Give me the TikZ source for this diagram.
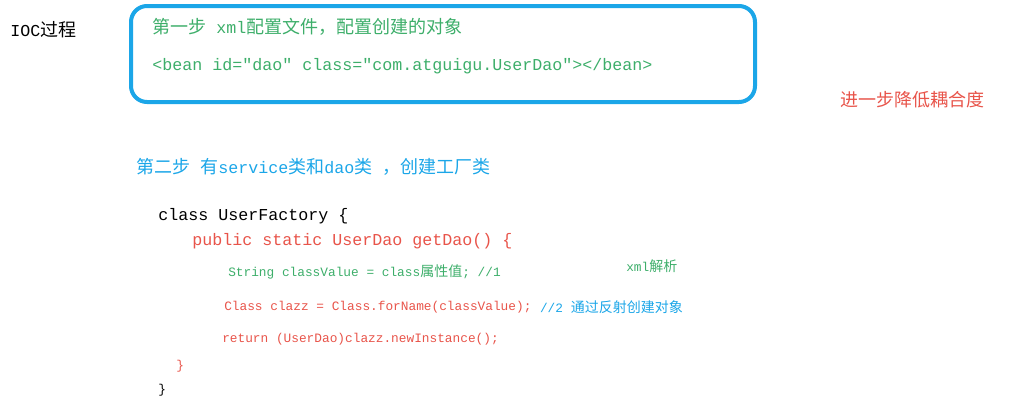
\documentclass[tikz,border=0pt]{standalone}
\usepackage{fontspec}
\setmonofont{Liberation Mono}
\newfontfamily\cjk{Noto Sans CJK SC}
\usepackage{tikz}
\usetikzlibrary{positioning}
\definecolor{codegreen}{HTML}{3DAE6A}
\definecolor{codered}{HTML}{E8544A}
\definecolor{codeblue}{HTML}{1BA6E8}
\newcommand{\z}[1]{{\cjk\fontsize{13.5pt}{16pt}\selectfont #1}}
\newcommand{\zs}[1]{{\cjk\fontsize{10.5pt}{12pt}\selectfont #1}}
\tikzset{txt/.style={anchor=west,inner sep=0pt,font=\ttfamily\fontsize{9.6pt}{11pt}\selectfont},
         head/.style={anchor=west,inner sep=0pt,font=\ttfamily\fontsize{12.5pt}{14pt}\selectfont}}

\begin{document}
\begin{tikzpicture}[x=0.75pt,y=-0.75pt]
            \useasboundingbox (0,0) rectangle (1014,418);
            \draw[codeblue,line width=3pt,rounded corners=12pt](131,6) rectangle (755,102);
            \node[head](ioc)at(10,30){IOC\z{过程}};
            \node[head,text=codegreen](s1)at(152,27){\z{第一步} xml\z{配置文件，配置创建的对象}};
            \node[head,text=codegreen](bean)at(152,66){<bean id="dao" class="com.atguigu.UserDao"></bean>};
            \node[head,text=codered](lower)at(840,100){\z{进一步降低耦合度}};
            \node[head,text=codeblue](s2)at(136,167){\z{第二步} \z{有}service\z{类和}dao\z{类} \z{，创建工厂类}};

            \node[head](c1)at(158,216){class UserFactory \{};
            \node[head,text=codered](c2)at(192,241){public static UserDao getDao() \{};
            \node[txt,text=codegreen](c3)at(228,272){String classValue = class\zs{属性值}; //1};
            \node[txt,text=codegreen](c3b)at(626,266){xml\zs{解析}};
            \node[txt,text=codered](c4)at(224,307){Class clazz = Class.forName(classValue);};
            \node[txt,text=codeblue,right=6pt of c4](c4b){//2 \zs{通过反射创建对象}};
            \node[txt,text=codered](c5)at(222,339){return (UserDao)clazz.newInstance();};
            \node[txt,text=codered](c6)at(176,366){\}};
            \node[txt](c7)at(158,390){\}};
\end{tikzpicture}
\end{document}
